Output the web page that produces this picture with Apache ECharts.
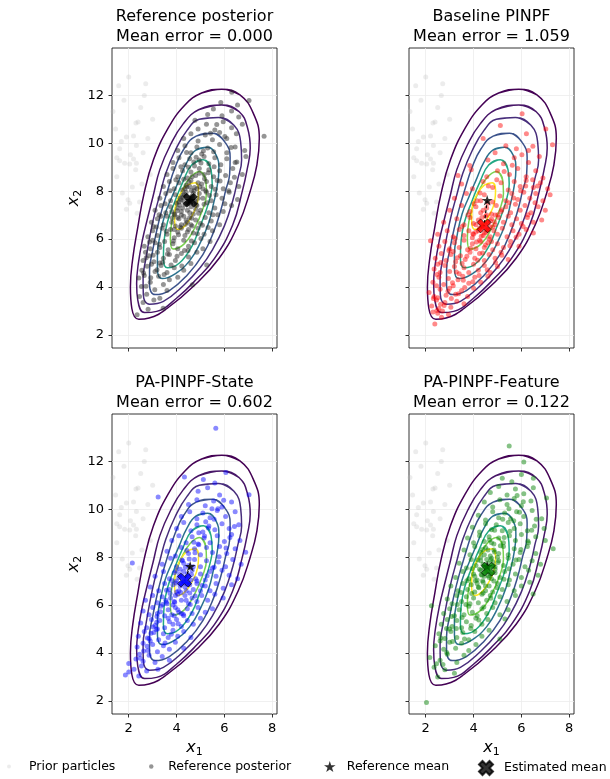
<!DOCTYPE html>
<html>
<head>
<meta charset="utf-8">
<script src="https://cdn.jsdelivr.net/npm/echarts@6.0.0/dist/echarts.min.js"></script>
<style>
  html, body { margin: 0; padding: 0; background: #ffffff; }
  #chart { width: 610px; height: 779px; }
</style>
</head>
<body>
<div id="chart"></div>
<script>
// panel titles and errors
var panelTitles = ['Reference posterior', 'Baseline PINPF', 'PA-PINPF-State', 'PA-PINPF-Feature'];
var meanErrors = [0.000, 1.059, 0.602, 0.122];
var particleColors = ['rgba(40,40,40,0.62)', 'rgba(255,0,0,0.58)', 'rgba(0,0,255,0.58)', 'rgba(0,128,0,0.6)'];
var markColors = ['#000000', '#ff0000', '#0000ff', '#008000'];

// means (x1, x2)
var refMean = [4.57, 7.62];
var estMeans = [[4.57, 7.62], [4.44, 6.55], [4.33, 7.04], [4.61, 7.50]];

// contour lines, outer to inner (closed loops, clockwise from the top)
var contourColors = ['#440154', '#481668', '#472d7b', '#3b528b', '#2c728e', '#22a884', '#7ad151', '#fde725'];
var contour1 = [[5.89,12.26],[6.65,12.02],[7.21,11.25],[7.46,10.2],[7.36,9.1],[7.08,8.0],[6.58,6.6],[5.78,5.2],[4.73,4.05],[3.6,3.1],[2.85,2.7],[2.42,2.65],[2.13,3.1],[2.07,4.0],[2.17,5.2],[2.38,6.5],[2.64,7.9],[3.03,9.3],[3.63,10.6],[4.35,11.6],[5.05,12.1],[5.89,12.26]];
var contour2 = [[5.89,11.6],[6.62,11.32],[6.98,10.6],[7.08,9.8],[6.95,8.9],[6.75,8.0],[6.35,6.6],[5.58,5.18],[4.85,4.34],[4.01,3.54],[3.17,2.98],[2.66,2.93],[2.38,3.44],[2.33,4.13],[2.4,4.97],[2.57,5.95],[2.8,6.92],[3.02,7.8],[3.3,8.9],[3.75,9.95],[4.27,10.8],[4.92,11.4],[5.89,11.6]];
var contour3 = [[5.75,11.08],[6.4,10.75],[6.68,10.05],[6.72,9.3],[6.56,8.5],[6.35,7.6],[6.0,6.55],[5.5,5.55],[5.0,4.82],[4.3,4.07],[3.45,3.4],[2.87,3.28],[2.61,3.68],[2.6,4.35],[2.72,5.2],[2.88,6.1],[3.07,7.0],[3.3,7.85],[3.55,8.75],[3.94,9.69],[4.43,10.53],[4.95,11.0],[5.75,11.08]];
var contour4 = [[5.5,10.42],[6.03,10.04],[6.24,9.42],[6.22,8.72],[6.05,8.02],[5.85,7.2],[5.55,6.3],[5.1,5.35],[4.45,4.5],[3.7,3.85],[3.1,3.68],[2.87,4.08],[2.87,4.69],[3.0,5.52],[3.18,6.4],[3.38,7.2],[3.62,8.02],[3.94,9.0],[4.3,9.75],[4.82,10.3],[5.5,10.42]];
var contour5 = [[5.3,9.83],[5.65,9.52],[5.77,8.92],[5.7,8.22],[5.55,7.5],[5.35,6.7],[5.02,5.9],[4.55,5.1],[3.94,4.55],[3.4,4.35],[3.2,4.76],[3.2,5.38],[3.32,6.2],[3.52,7.05],[3.8,7.75],[4.1,8.45],[4.43,9.2],[4.82,9.72],[5.3,9.83]];
var contour6 = [[5.12,9.31],[5.44,8.9],[5.49,8.3],[5.4,7.74],[5.22,7.15],[4.97,6.5],[4.65,5.72],[4.12,5.0],[3.62,4.8],[3.45,5.2],[3.48,5.95],[3.62,6.71],[3.92,7.55],[4.27,8.4],[4.64,9.1],[5.12,9.31]];
var contour7 = [[4.95,8.82],[5.22,8.45],[5.25,7.9],[5.08,7.2],[4.75,6.45],[4.32,5.8],[3.85,5.58],[3.74,6.05],[3.8,6.71],[3.97,7.35],[4.22,8.0],[4.55,8.55],[4.95,8.82]];
var contour8 = [[4.78,8.35],[4.92,8.05],[4.88,7.55],[4.66,7.0],[4.35,6.55],[4.06,6.4],[3.92,6.75],[3.94,7.3],[4.15,7.88],[4.45,8.25],[4.78,8.35]];
var contours = [contour1, contour2, contour3, contour4, contour5, contour6, contour7, contour8];

// prior particles (same in every panel)
var priorParticles = [[2.0,12.77],[1.58,12.4],[2.71,12.49],[1.34,11.33],[2.39,10.89],[2.3,10.85],[1.9,10.26],[1.69,10.08],[2.32,9.91],[1.62,9.77],[2.07,9.52],[1.62,9.27],[1.83,9.17],[2.04,9.13],[2.32,9.17],[2.29,8.9],[2.15,8.17],[1.73,7.92],[1.97,7.64],[2.04,7.5],[1.9,7.25],[2.35,7.08],[2.6,9.6],[2.8,10.2],[1.45,10.6],[2.5,11.5],[2.9,8.7],[2.55,8.3],[1.5,8.6],[2.2,10.3],[3.0,11.0],[2.45,7.55],[1.8,11.8],[2.65,12.0],[1.5,9.4],[2.2,9.34]];

// reference posterior particles
var refParticles = [[2.35,2.84],[2.81,3.07],[3.44,3.11],[2.6,3.35],[3.05,3.45],
[2.53,4.02],[3.09,3.88],[3.3,3.53],[2.75,3.7],[3.6,3.85],[2.45,3.6],
[2.42,4.37],[2.9,4.2],[3.25,4.45],[3.7,4.3],[4.66,4.09],[2.65,4.48],[3.45,4.1],[4.05,4.4],
[2.77,4.86],[2.55,4.7],[3.1,4.65],[3.35,4.9],[3.6,4.6],[3.9,4.8],[4.3,4.7],[2.95,4.95],[5.26,4.92],[4.6,4.98],
[2.6,5.1],[2.85,5.3],[3.05,5.05],[3.2,5.45],[3.45,5.2],[3.7,5.35],[3.95,5.1],[4.2,5.4],[4.5,5.25],[3.3,5.0],[2.7,5.45],[4.85,5.45],
[2.65,5.7],[2.9,5.6],[3.1,5.85],[3.3,5.65],[3.5,5.9],[3.65,5.55],[3.85,5.8],[4.05,5.6],[4.3,5.95],[4.5,5.7],[4.75,5.85],[5.1,5.6],[3.0,5.95],[5.4,5.9],
[2.8,6.1],[3.0,6.35],[3.2,6.15],[3.4,6.45],[3.6,6.2],[3.75,6.4],[3.9,6.05],[4.05,6.3],[4.2,6.45],[4.35,6.15],[4.5,6.4],[4.7,6.25],[4.9,6.45],[5.15,6.2],[5.5,6.35],[3.15,6.5],
[2.95,6.7],[3.2,6.85],[3.45,6.6],[3.6,6.95],[3.8,6.7],[3.95,6.55],[4.1,6.85],[4.2,6.6],[4.3,6.95],[4.45,6.7],[4.55,6.9],[4.65,6.55],[4.8,6.8],[5.0,6.65],[5.2,6.9],[5.45,6.75],[5.8,6.6],[3.35,6.95],
[3.1,7.2],[3.35,7.4],[3.55,7.1],[3.75,7.35],[3.9,7.05],[4.05,7.3],[4.2,7.15],[4.35,7.45],[4.45,7.2],[4.6,7.35],[4.7,7.05],[4.85,7.4],[5.0,7.2],[5.15,7.45],[5.35,7.1],[5.6,7.3],[5.95,7.15],[6.3,7.4],
[3.3,7.7],[3.55,7.9],[3.75,7.6],[3.95,7.85],[4.1,7.55],[4.25,7.75],[4.4,7.95],[4.5,7.6],[4.65,7.8],[4.8,7.55],[4.95,7.9],[5.1,7.7],[5.25,7.95],[5.45,7.6],[5.65,7.85],[5.9,7.7],[6.2,7.95],[6.55,7.65],
[3.45,8.2],[3.7,8.4],[3.9,8.1],[4.1,8.35],[4.25,8.05],[4.4,8.25],[4.6,8.45],[4.75,8.15],[4.9,8.35],[5.1,8.1],[5.25,8.4],[5.45,8.2],[5.7,8.45],[5.95,8.1],[6.25,8.35],[6.6,8.2],
[3.6,8.7],[3.85,8.95],[4.05,8.6],[4.25,8.85],[4.45,8.55],[4.6,8.8],[4.8,8.65],[4.95,8.95],[5.15,8.7],[5.35,8.9],[5.55,8.6],[5.8,8.85],[6.05,8.65],[6.35,8.95],[6.75,8.7],
[3.85,9.2],[4.1,9.4],[4.35,9.1],[4.55,9.35],[4.75,9.05],[4.95,9.3],[5.15,9.45],[5.35,9.15],[5.6,9.4],[5.85,9.1],[6.1,9.35],[6.45,9.2],[6.9,9.45],
[4.05,9.7],[4.35,9.9],[4.6,9.6],[4.85,9.85],[5.05,9.55],[5.3,9.8],[5.55,9.65],[5.8,9.95],[6.1,9.6],[6.45,9.85],[6.85,9.7],
[4.3,10.2],[4.6,10.4],[4.9,10.1],[5.2,10.35],[5.5,10.15],[5.8,10.45],[6.1,10.2],[6.5,10.4],[7.66,10.29],
[4.77,10.96],[4.9,10.6],[5.25,10.8],[5.6,10.55],[5.95,10.9],[6.3,10.65],[6.75,10.8],
[5.3,11.2],[5.54,11.43],[5.9,11.15],[6.3,11.35],[6.6,11.1],
[6.31,12.13],[7.03,11.79],[5.85,11.7],[6.55,11.6],
[4.3,7.6],[4.5,7.5],[4.4,7.8],[4.6,7.65],[4.7,7.9],[4.2,7.0],[4.4,6.8],[4.25,7.3],[4.55,7.1],[4.75,7.6],[4.35,8.1],[4.55,8.2],[4.05,6.9],[4.15,6.5],[4.45,6.3],[4.65,8.6],[4.85,8.1],[4.9,7.7],[4.0,7.5],[4.3,8.5],[3.9,6.4],[4.6,6.6],[4.8,7.25],[4.15,7.7],[5.05,8.3],[3.8,7.15],[4.5,9.0],[4.95,8.75],
[3.02,5.32],[3.28,5.78],[3.57,6.33],[3.82,6.88],[4.03,7.18],[4.12,7.42],[4.18,7.63],[4.32,7.88],[4.43,8.17],[4.52,8.38],[4.62,8.03],[4.68,7.72],[4.82,7.43],[4.92,7.08],[4.63,6.87],[4.37,6.62],[4.08,6.18],[3.87,5.92],[3.62,5.38],[3.42,5.03],[3.18,4.72],[2.92,4.38],[2.72,4.03],[3.92,7.02],[4.27,7.83],[4.47,7.47],[4.57,7.73],[4.73,8.02],[4.97,8.18],[5.17,8.52],[5.33,8.77],[5.57,9.02],[5.02,9.18],[4.72,9.22],[5.22,8.02],[5.38,7.82],[5.62,8.08],[5.82,8.42],[5.28,7.52],[5.52,7.02],[5.08,6.58],[4.87,6.22],[4.62,5.92],[4.33,5.52],[4.02,5.28],[3.77,4.92],[3.48,4.52],[4.22,4.88],[4.48,5.52],[5.02,6.02],[5.32,6.48],[5.72,7.02],[6.02,7.48],[6.18,8.02],[6.42,8.58],[6.52,9.22],[6.28,9.82],[6.02,10.28],[5.68,10.78],[5.42,10.42],[5.12,9.68],[4.82,9.42],[4.42,9.62],[4.18,9.02],[3.97,8.48],[3.73,8.02],[3.52,7.48],[3.27,7.02],[3.03,6.52],[2.87,5.88],[2.73,5.22],[2.62,4.58]];

// baseline PINPF particles
var baselineParticles = [[2.38,2.45],[2.66,2.73],[2.5,2.9],[2.95,2.85],[2.3,2.95],
[2.25,3.2],[2.55,3.1],[2.8,3.35],[3.05,3.15],[3.3,3.4],[2.45,3.45],[2.7,3.0],[3.6,3.3],
[2.14,3.77],[2.35,3.6],[2.6,3.9],[2.85,3.65],[3.0,3.95],[3.25,3.7],[3.5,3.85],[3.75,3.6],[2.5,3.55],[4.0,3.95],
[2.3,4.2],[2.55,4.4],[2.75,4.1],[2.95,4.35],[3.15,4.05],[3.35,4.3],[3.55,4.45],[3.8,4.15],[4.05,4.4],[4.3,4.2],[2.45,4.05],[4.6,4.45],
[2.35,4.75],[2.6,4.6],[2.8,4.9],[3.0,4.65],[3.2,4.85],[3.4,4.55],[3.6,4.8],[3.8,4.6],[4.0,4.95],[4.2,4.7],[4.45,4.9],[4.7,4.6],[5.0,4.85],[2.5,4.95],
[2.4,5.2],[2.65,5.4],[2.85,5.1],[3.05,5.35],[3.25,5.05],[3.45,5.3],[3.65,5.15],[3.85,5.45],[4.05,5.2],[4.25,5.4],[4.45,5.1],[4.65,5.35],[4.9,5.2],[5.15,5.45],[5.45,5.15],[3.15,5.48],
[2.2,5.93],[2.55,5.7],[2.8,5.9],[3.0,5.6],[3.2,5.85],[3.4,5.65],[3.6,5.95],[3.75,5.55],[3.95,5.8],[4.1,5.6],[4.3,5.9],[4.45,5.65],[4.6,5.85],[4.8,5.55],[5.0,5.8],[5.25,5.65],[5.55,5.9],[5.9,5.7],
[2.5,6.2],[2.9,6.35],[3.15,6.1],[3.4,6.4],[3.6,6.15],[3.8,6.35],[3.95,6.05],[4.1,6.3],[4.25,6.45],[4.4,6.15],[4.55,6.4],[4.7,6.1],[4.85,6.35],[5.0,6.2],[5.2,6.45],[5.4,6.1],[5.65,6.35],[5.9,6.2],[6.2,6.4],[6.5,6.25],
[2.75,6.7],[3.3,6.85],[3.6,6.6],[3.85,6.9],[4.0,6.65],[4.2,6.8],[4.35,6.55],[4.5,6.95],[4.6,6.7],[4.75,6.85],[4.9,6.6],[5.05,6.9],[5.25,6.7],[5.45,6.95],[5.6,6.6],[5.8,6.85],[6.0,6.65],[6.25,6.9],[6.5,6.7],[6.85,6.8],
[3.0,7.2],[3.5,7.4],[3.85,7.15],[4.1,7.35],[4.3,7.1],[4.55,7.3],[4.75,7.05],[4.95,7.4],[5.15,7.15],[5.35,7.35],[5.55,7.1],[5.75,7.45],[5.95,7.2],[6.15,7.4],[6.4,7.1],[6.7,7.35],[7.0,7.2],
[3.2,7.7],[3.7,7.9],[4.15,7.6],[4.45,7.85],[4.8,7.55],[5.1,7.8],[5.35,7.6],[5.6,7.9],[5.85,7.65],[6.1,7.95],[6.35,7.7],[6.6,7.9],[6.9,7.6],[7.2,7.85],
[3.5,8.3],[3.95,8.1],[4.4,8.4],[4.8,8.15],[5.15,8.35],[5.45,8.05],[5.7,8.4],[5.95,8.2],[6.2,8.45],[6.5,8.15],[6.8,8.35],[7.1,8.1],
[3.35,8.65],[3.9,8.9],[4.55,8.6],[5.0,8.85],[5.5,8.7],[5.85,8.95],[6.2,8.6],[6.6,8.85],[6.9,8.55],
[3.84,9.07],[4.6,9.3],[5.25,9.15],[5.7,9.4],[6.3,9.2],[6.75,9.45],
[4.9,9.6],[5.79,9.77],[6.3,9.7],[7.3,9.94],[5.35,9.9],
[5.12,10.74],[6.21,10.4],[7.02,10.6],[6.03,11.23],[4.4,10.2],
[4.4,6.5],[4.5,6.6],[4.3,6.7],[4.6,6.4],[4.45,6.25],[4.35,6.9],[4.55,7.0],[4.2,6.35],[4.7,6.75],[4.65,6.0],[4.25,5.95],[4.4,7.2],[4.8,6.5],[4.1,6.6],[4.5,5.75],[4.9,7.0],[4.0,6.2],[4.6,7.5],[4.3,7.6],[4.75,5.9],
[2.62,3.28],[2.93,3.82],[3.12,4.18],[3.28,4.62],[3.52,4.98],[3.72,5.28],[3.88,5.62],[4.12,5.88],[4.32,6.12],[4.52,6.28],[4.68,6.52],[4.87,6.72],[5.02,7.02],[5.18,7.22],[5.47,7.52],[5.68,7.72],[5.97,8.02],[6.18,8.22],[6.47,8.48],[6.68,8.22],[6.57,7.52],[6.28,7.02],[6.07,6.52],[5.78,6.08],[5.52,5.72],[5.18,5.32],[4.92,5.02],[4.57,4.72],[4.23,4.48],[3.97,4.22],[3.63,3.98],[3.37,3.72],[3.07,3.52],[2.77,3.22],[2.47,3.02],[2.32,3.52],[2.47,4.52],[2.63,5.02],[2.97,5.52],[3.23,6.02],[3.52,6.52],[3.77,7.02],[4.02,7.48],[4.27,7.92],[4.62,8.22],[4.97,8.48],[5.28,8.82],[5.62,9.08],[6.02,9.52],[6.48,9.88],[3.32,5.22],[3.97,6.22],[4.38,5.42],[4.17,5.12],[3.57,4.28]];

// PA-PINPF-State particles
var stateParticles = [[1.86,3.08],[2.0,3.2],[2.42,3.04],[2.53,3.46],[3.22,3.32],[2.75,3.25],
[2.0,3.56],[2.3,3.75],[2.6,3.65],[2.85,3.9],[3.1,3.6],[3.4,3.85],[2.45,3.95],[3.7,3.7],
[2.35,4.25],[2.6,4.4],[2.8,4.1],[3.0,4.35],[3.2,4.05],[3.45,4.3],[3.7,4.15],[3.95,4.45],[4.3,4.2],[2.9,4.5],
[2.4,4.7],[2.65,4.9],[2.85,4.6],[3.05,4.85],[3.25,4.55],[3.45,4.8],[3.65,4.65],[3.85,4.95],[4.05,4.7],[4.3,4.9],[4.6,4.65],[3.15,4.98],
[2.5,5.25],[2.75,5.05],[2.95,5.4],[3.1,5.15],[3.3,5.35],[3.5,5.05],[3.65,5.45],[3.85,5.2],[4.0,5.4],[4.2,5.1],[4.45,5.35],[4.7,5.2],[5.0,5.45],[3.2,5.0],
[2.6,5.75],[2.85,5.6],[3.0,5.9],[3.2,5.65],[3.35,5.95],[3.5,5.55],[3.65,5.8],[3.8,5.6],[3.95,5.9],[4.1,5.7],[4.3,5.55],[4.45,5.85],[4.65,5.65],[4.9,5.9],[5.2,5.7],[5.5,5.85],
[2.7,6.2],[3.0,6.4],[3.2,6.1],[3.4,6.35],[3.6,6.05],[3.75,6.3],[3.9,6.15],[4.05,6.45],[4.2,6.2],[4.35,6.4],[4.5,6.05],[4.65,6.3],[4.85,6.15],[5.05,6.4],[5.3,6.2],[5.6,6.45],[5.95,6.3],
[2.9,6.75],[3.25,6.6],[3.5,6.9],[3.7,6.65],[3.85,6.85],[4.0,6.55],[4.15,6.8],[4.3,6.95],[4.4,6.6],[4.55,6.85],[4.7,6.65],[4.85,6.9],[5.0,6.6],[5.2,6.8],[5.4,6.6],[5.65,6.9],[5.95,6.7],[6.3,6.85],
[3.1,7.2],[3.45,7.4],[3.7,7.1],[3.9,7.35],[4.1,7.15],[4.3,7.4],[4.5,7.2],[4.65,7.45],[4.8,7.1],[5.0,7.3],[5.2,7.05],[5.4,7.4],[5.65,7.2],[5.9,7.45],[6.2,7.25],[6.55,7.1],
[2.15,7.76],[3.4,7.7],[3.75,7.95],[4.0,7.6],[4.25,7.85],[4.5,7.65],[4.75,7.9],[5.0,7.6],[5.25,7.85],[5.5,7.55],[5.75,7.8],[6.05,7.6],[6.35,7.9],[6.7,7.7],
[3.6,8.25],[3.95,8.05],[4.2,8.4],[4.5,8.15],[4.75,8.35],[5.0,8.1],[5.25,8.4],[5.5,8.2],[5.8,8.45],[6.1,8.15],[6.89,8.21],[6.45,8.35],
[3.8,8.7],[4.1,8.9],[4.4,8.6],[4.65,8.85],[4.9,8.55],[5.15,8.8],[5.4,8.6],[5.7,8.9],[6.0,8.65],[6.3,8.95],[6.65,8.7],
[4.0,9.2],[4.3,9.45],[4.6,9.1],[4.85,9.35],[5.1,9.05],[5.35,9.3],[5.6,9.15],[5.9,9.4],[6.2,9.2],[6.6,9.35],
[4.2,9.7],[4.55,9.9],[4.85,9.6],[5.1,9.85],[5.4,9.65],[5.7,9.95],[6.05,9.7],[6.45,9.9],
[4.5,10.2],[4.85,10.4],[5.2,10.15],[5.55,10.35],[5.9,10.1],[6.3,10.3],
[3.23,10.51],[4.9,10.75],[5.3,10.9],[5.8,10.6],[7.03,10.61],
[4.33,11.35],[5.12,11.24],[6.06,11.54],[5.6,11.1],[5.64,13.39],
[4.3,7.0],[4.4,7.1],[4.2,6.9],[4.35,6.75],[4.5,6.95],[4.25,7.2],[4.45,7.3],[4.1,6.6],[4.6,7.05],[4.0,7.0],[3.95,6.4],[4.55,6.5],[4.15,7.5],[4.7,7.6],[3.85,6.0],[4.4,6.2],[4.05,5.8],[3.7,5.3],[4.2,5.65],[4.85,7.0],[4.3,7.75],[3.55,6.2],[3.9,5.55],
[2.22,3.32],[2.48,3.78],[2.77,4.28],[2.93,4.82],[3.17,5.28],[3.33,5.72],[3.57,6.12],[3.73,6.48],[3.97,6.92],[4.13,7.28],[4.37,7.58],[4.53,7.92],[4.77,8.18],[4.93,8.52],[5.17,8.88],[5.33,9.22],[5.57,9.58],[5.73,10.02],[5.97,10.38],[5.48,10.02],[5.22,9.48],[4.93,9.02],[4.72,8.62],[4.43,8.28],[4.22,7.88],[3.98,7.42],[3.82,7.02],[3.58,6.62],[3.42,6.02],[3.18,5.52],[3.02,5.08],[2.78,4.62],[2.62,4.08],[3.52,4.42],[3.78,4.78],[4.07,5.22],[4.28,5.62],[4.57,6.02],[4.78,6.38],[5.07,6.82],[5.28,7.22],[5.57,7.58],[5.78,8.02],[6.07,8.38],[6.23,8.82],[6.42,9.28],[4.42,6.88],[4.18,6.52],[4.62,7.28],[3.92,6.12]];

// PA-PINPF-Feature particles
var featureParticles = [[2.03,1.93],[2.5,3.0],[2.8,3.3],[3.2,3.15],[2.35,3.4],
[2.17,3.81],[2.6,3.7],[2.9,3.95],[3.3,3.6],[3.6,3.9],[2.45,3.55],
[2.4,4.3],[2.75,4.15],[3.0,4.45],[3.25,4.2],[3.5,4.4],[3.8,4.1],[4.1,4.35],[2.6,4.5],
[2.55,4.8],[2.8,4.6],[3.05,4.9],[3.3,4.65],[3.55,4.85],[3.8,4.55],[4.05,4.9],[4.35,4.7],[5.1,4.58],[4.65,4.95],
[2.65,5.2],[2.9,5.4],[3.1,5.1],[3.3,5.35],[3.5,5.05],[3.7,5.3],[3.9,5.15],[4.1,5.45],[4.35,5.2],[4.6,5.4],[5.31,5.42],[3.0,5.0],
[2.24,5.97],[2.75,5.65],[3.0,5.85],[3.2,5.55],[3.4,5.8],[3.6,5.6],[3.8,5.95],[3.95,5.7],[4.15,5.55],[4.35,5.85],[4.55,5.65],[4.8,5.9],[5.1,5.6],[5.45,5.8],
[2.9,6.25],[3.1,6.05],[3.3,6.4],[3.5,6.15],[3.7,6.35],[3.85,6.05],[4.0,6.3],[4.2,6.1],[4.35,6.45],[4.55,6.2],[4.7,6.4],[4.9,6.1],[5.1,6.35],[5.4,6.15],[5.75,6.4],[6.49,6.46],
[3.05,6.8],[3.35,6.6],[3.55,6.9],[3.75,6.65],[3.9,6.85],[4.05,6.55],[4.2,6.75],[4.4,6.95],[4.5,6.6],[4.65,6.8],[4.8,6.55],[5.0,6.9],[5.2,6.65],[5.45,6.85],[5.7,6.6],[6.0,6.8],[6.35,6.95],
[3.25,7.15],[3.55,7.4],[3.8,7.1],[4.0,7.3],[4.15,7.05],[4.3,7.45],[4.45,7.2],[4.6,7.4],[4.75,7.1],[4.9,7.35],[5.1,7.15],[5.3,7.4],[5.5,7.05],[5.75,7.3],[6.0,7.15],[6.3,7.45],[6.7,7.25],
[3.4,7.75],[3.7,7.55],[3.9,7.9],[4.1,7.65],[4.3,7.85],[4.45,7.55],[4.6,7.75],[4.75,7.95],[4.9,7.6],[5.05,7.85],[5.25,7.65],[5.45,7.95],[5.65,7.7],[5.9,7.9],[6.15,7.6],[6.45,7.85],[6.8,7.7],
[3.6,8.3],[3.85,8.1],[4.05,8.45],[4.3,8.2],[4.5,8.4],[4.7,8.05],[4.85,8.3],[5.05,8.15],[5.25,8.45],[5.45,8.1],[5.7,8.35],[5.95,8.2],[6.25,8.45],[6.6,8.15],[7.33,8.35],
[3.75,8.8],[4.0,8.6],[4.25,8.9],[4.45,8.65],[4.65,8.85],[4.85,8.55],[5.05,8.8],[5.25,8.6],[5.5,8.9],[5.75,8.7],[6.0,8.95],[6.3,8.6],[6.6,8.85],[7.0,8.7],
[3.95,9.25],[4.25,9.05],[4.5,9.4],[4.75,9.15],[4.95,9.35],[5.2,9.1],[5.45,9.45],[5.7,9.2],[5.95,9.4],[6.25,9.1],[6.55,9.3],[6.95,9.2],
[4.2,9.75],[4.5,9.55],[4.8,9.9],[5.05,9.65],[5.3,9.85],[5.55,9.6],[5.8,9.9],[6.1,9.7],[6.45,9.95],[6.85,9.6],
[4.45,10.3],[4.8,10.1],[5.1,10.4],[5.4,10.2],[5.7,10.45],[6.0,10.15],[6.4,10.35],[7.05,10.47],
[4.7,10.7],[5.05,10.95],[5.4,10.6],[5.75,10.85],[6.1,10.65],[6.5,10.9],
[5.2,11.3],[5.6,11.15],[6.0,11.45],[6.1,11.97],[5.49,12.64],[6.5,11.3],
[4.5,7.4],[4.6,7.6],[4.7,7.3],[4.4,7.7],[4.55,7.9],[4.65,7.15],[4.35,7.25],[4.8,7.8],[4.45,8.1],[4.25,7.5],[4.9,7.5],[4.6,8.3],[4.15,6.9],[4.5,6.8],[4.75,8.6],[4.3,8.0],[4.05,7.2],[5.0,8.0],[4.4,6.5],[4.85,7.0],
[2.72,3.52],[2.88,4.02],[3.12,4.48],[3.28,5.02],[3.52,5.48],[3.68,6.02],[3.92,6.48],[4.08,7.02],[4.32,7.28],[4.48,7.62],[4.72,7.88],[4.88,8.22],[5.12,8.48],[5.28,8.82],[5.52,9.08],[5.68,9.52],[5.92,9.88],[6.08,10.32],[5.82,10.58],[5.48,10.02],[5.22,9.58],[4.88,9.12],[4.67,8.72],[4.38,8.32],[4.17,7.88],[3.93,7.52],[3.72,7.02],[3.48,6.52],[3.32,6.02],[3.08,5.52],[2.87,5.02],[2.63,4.62],[3.62,4.58],[3.88,5.02],[4.22,5.38],[4.43,5.92],[4.72,6.28],[4.98,6.72],[5.27,7.08],[5.48,7.52],[5.77,7.88],[5.98,8.32],[6.27,8.68],[6.43,9.12],[6.62,9.58],[4.62,7.22],[4.38,7.02],[4.82,7.62],[4.22,6.72],[5.02,7.78]];

var panelParticles = [refParticles, baselineParticles, stateParticles, featureParticles];

// axis ranges and tick labels
var xRange = [1.3, 8.2];
var yRange = [1.45, 13.98];
var xTicks = [2, 4, 6, 8];
var yTicks = [2, 4, 6, 8, 10, 12];

var starPath = 'path://M50,0 L61.2,34.5 L97.6,34.5 L68.2,55.9 L79.4,90.5 L50,69.1 L20.6,90.5 L31.8,55.9 L2.4,34.5 L38.8,34.5 Z';
var crossPath = 'path://M25,0 L50,25 L75,0 L100,25 L75,50 L100,75 L75,100 L50,75 L25,100 L0,75 L25,50 L0,25 Z';

var font = 'DejaVu Sans';
var gridBoxes = [
  { left: 112, top: 48 }, { left: 409, top: 48 },
  { left: 112, top: 414 }, { left: 409, top: 414 }
];

// close a loop with one point of overlap on each side so the spline has no kink
function closeLoop(c) {
  return [c[c.length - 2]].concat(c, [c[1]]);
}

function axisName() {
  return {
    rich: {
      i: { fontSize: 16, fontStyle: 'italic', fontFamily: font, color: '#000' },
      s: { fontSize: 11, fontFamily: font, color: '#000', verticalAlign: 'bottom', padding: [9, 0, 0, 0] }
    }
  };
}

var grids = [], xAxes = [], yAxes = [], titles = [], series = [];

gridBoxes.forEach(function (b, i) {
  var bottomRow = i >= 2, leftCol = i % 2 === 0;
  grids.push({
    left: b.left, top: b.top, width: 165, height: 300,
    show: true, borderColor: '#000', borderWidth: 0.8, containLabel: false
  });
  xAxes.push({
    type: 'value', gridIndex: i, min: xRange[0], max: xRange[1], splitNumber: 3,
    axisLine: { show: false },
    axisTick: { show: true, length: 3.5, customValues: xTicks, lineStyle: { color: '#000', width: 0.8 } },
    axisLabel: { show: bottomRow, margin: 8, color: '#000', fontSize: 13, fontFamily: font, customValues: xTicks },
    splitLine: { show: true, lineStyle: { color: '#ececec', width: 0.8 } },
    name: bottomRow ? '{i|x}{s|1}' : '', nameLocation: 'middle', nameGap: 24,
    nameTextStyle: axisName()
  });
  yAxes.push({
    type: 'value', gridIndex: i, min: yRange[0], max: yRange[1], splitNumber: 6,
    axisLine: { show: false },
    axisTick: { show: true, length: 3.5, customValues: yTicks, lineStyle: { color: '#000', width: 0.8 } },
    axisLabel: { show: leftCol, margin: 8, color: '#000', fontSize: 13, fontFamily: font, customValues: yTicks },
    splitLine: { show: true, lineStyle: { color: '#ececec', width: 0.8 } },
    name: leftCol ? '{i|x}{s|2}' : '', nameLocation: 'middle', nameGap: 26,
    nameTextStyle: axisName()
  });
  titles.push({
    text: panelTitles[i] + '\nMean error = ' + meanErrors[i].toFixed(3),
    left: b.left + 82.5, top: bottomRow ? 373 : 7, textAlign: 'center', padding: 0,
    textStyle: { fontSize: 16, fontWeight: 'normal', fontFamily: font, color: '#000', lineHeight: 20 }
  });

  // prior particles
  series.push({
    type: 'scatter', name: i === 0 ? 'Prior particles' : 'prior' + i,
    xAxisIndex: i, yAxisIndex: i, data: priorParticles, symbolSize: 5, silent: true, z: 1,
    itemStyle: { color: 'rgba(185,185,185,0.35)' }
  });
  // contours
  contours.forEach(function (c, k) {
    series.push({
      type: 'line', name: 'contour' + i + '_' + k, xAxisIndex: i, yAxisIndex: i,
      data: closeLoop(c), showSymbol: false, smooth: 0.45, silent: true, z: 2,
      lineStyle: { color: contourColors[k], width: 1.5 }
    });
  });
  // particles
  series.push({
    type: 'scatter', name: i === 0 ? 'Reference posterior' : 'particles' + i,
    xAxisIndex: i, yAxisIndex: i, data: panelParticles[i], symbolSize: 5, silent: true, z: 3,
    itemStyle: { color: particleColors[i] }
  });
  // dashed link between means
  series.push({
    type: 'line', name: 'link' + i, xAxisIndex: i, yAxisIndex: i,
    data: [refMean, estMeans[i]], showSymbol: false, silent: true, z: 4,
    lineStyle: { color: '#000', width: 1.2, type: [3, 2] }
  });
  // reference mean
  series.push({
    type: 'scatter', name: i === 0 ? 'Reference mean' : 'refmean' + i,
    xAxisIndex: i, yAxisIndex: i, data: [refMean], symbol: starPath, symbolKeepAspect: true,
    symbolSize: 11, silent: true, z: 5, itemStyle: { color: '#000' }
  });
  // estimated mean
  series.push({
    type: 'scatter', name: i === 0 ? 'Estimated mean' : 'estmean' + i,
    xAxisIndex: i, yAxisIndex: i, data: [estMeans[i]], symbol: crossPath,
    symbolSize: 14, silent: true, z: 6,
    itemStyle: { color: markColors[i], borderColor: '#000', borderWidth: 0.8 }
  });
});

var legendText = { fontSize: 12.5, fontFamily: font, color: '#000' };
var legends = [
  { data: ['Prior particles'], left: 7, top: 760, itemWidth: 30, itemHeight: 4, textStyle: legendText },
  { data: ['Reference posterior'], left: 149, top: 760, itemWidth: 24, itemHeight: 4.5, textStyle: legendText },
  { data: ['Reference mean'], left: 324, top: 760, itemWidth: 24, itemHeight: 11, textStyle: legendText },
  { data: ['Estimated mean'], left: 478, top: 760, itemWidth: 26, itemHeight: 14, textStyle: legendText }
].map(function (l) {
  l.padding = 0; l.selectedMode = false; l.orient = 'horizontal';
  return l;
});

var chart = echarts.init(document.getElementById('chart'), null, { renderer: 'canvas' });
chart.setOption({
  animation: false,
  backgroundColor: '#ffffff',
  textStyle: { fontFamily: font },
  title: titles,
  legend: legends,
  grid: grids,
  xAxis: xAxes,
  yAxis: yAxes,
  series: series
});
</script>
</body>
</html>
